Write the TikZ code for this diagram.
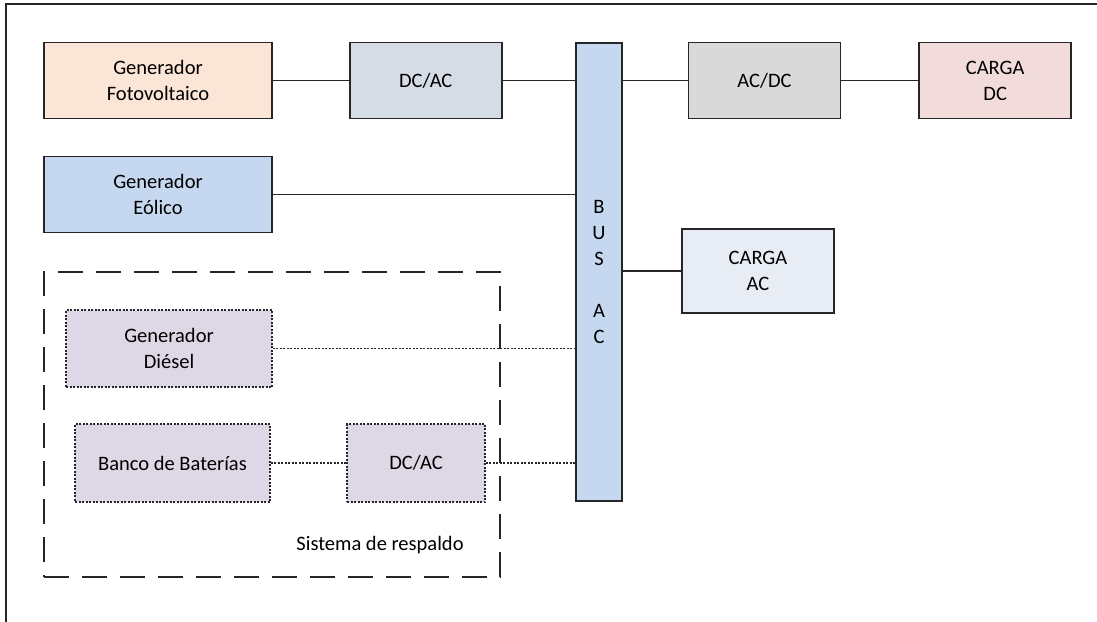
\documentclass[tikz,border=0pt]{standalone}
\usepackage{fontspec}
\setmainfont{Carlito}
\usepackage{tikz}
\usetikzlibrary{positioning}

\definecolor{pvfill}{RGB}{251,229,214}
\definecolor{convfill}{RGB}{214,220,229}
\definecolor{busfill}{RGB}{197,216,240}
\definecolor{acdcfill}{RGB}{217,217,217}
\definecolor{dcloadfill}{RGB}{242,220,219}
\definecolor{acloadfill}{RGB}{232,236,244}
\definecolor{bkfill}{RGB}{222,216,230}

\begin{document}
\begin{tikzpicture}[
  x=1pt, y=-1pt,
  node distance=76pt,
  font=\fontsize{20.5}{26}\selectfont,
  block/.style={
    rectangle, draw=black!85, line width=1.7pt,
    align=center, inner sep=0pt,
    minimum width=152pt, minimum height=76pt,
  },
  gen/.style={block, minimum width=228pt},
  backup/.style={block, fill=bkfill, dash pattern=on 2pt off 1.5pt},
  link/.style={draw=black!85, line width=1.6pt},
  dlink/.style={link, dash pattern=on 2pt off 1.5pt},
]
\useasboundingbox (0,0) rectangle (1097,621);

% --- Outer frame ---
\draw[link] (6,4) rectangle (1120,650);

% --- Bus ---
\node[block, fill=busfill, minimum width=46pt, minimum height=458pt] (BUS) at (599,272) {B\\U\\S\\[26pt]A\\C};

% --- Generation ---
\node[gen, fill=pvfill] (PV) at (158,80.5) {Generador\\Fotovoltaico};
\node[block, fill=convfill, right=of PV] (DCAC1) {DC/AC};
\node[gen, fill=busfill] (EOL) at (158,194.5) {Generador\\Eólico};

% --- Loads ---
\node[block, fill=acdcfill] (ACDC) at (764.5,80.5) {AC/DC};
\node[block, fill=dcloadfill, right=77pt of ACDC] (CDC) {CARGA\\DC};
\node[block, fill=acloadfill, minimum height=84pt] (CAC) at (758,271) {CARGA\\AC};

% --- Backup system ---
\node[draw=black!85, line width=1.6pt, dash pattern=on 25pt off 13pt,
      minimum width=456pt, minimum height=305pt] (SR) at (272,424.5) {};
\node (SRLBL) at (380,545) {Sistema de respaldo};
\node[backup, minimum width=206pt, minimum height=77pt] (DIE) at (169,348.5) {Generador\\Diésel};
\node[backup, minimum width=195pt, minimum height=78pt] (BAT) at (172.5,463) {Banco de Baterías};
\node[backup, minimum width=138pt, minimum height=78pt] (DCAC2) at (416,463) {DC/AC};

% --- Connections ---
\draw[link] (PV) -- (DCAC1);
\draw[link] (DCAC1) -- (DCAC1 -| BUS.west);
\draw[link] (ACDC -| BUS.east) -- (ACDC);
\draw[link] (ACDC) -- (CDC);
\draw[link] (EOL) -- (EOL -| BUS.west);
\draw[link] (CAC -| BUS.east) -- (CAC);

\draw[dlink] (DIE) -- (DIE -| BUS.west);
\draw[dlink] (BAT) -- (DCAC2);
\draw[dlink] (DCAC2) -- (DCAC2 -| BUS.west);

\end{tikzpicture}
\end{document}
